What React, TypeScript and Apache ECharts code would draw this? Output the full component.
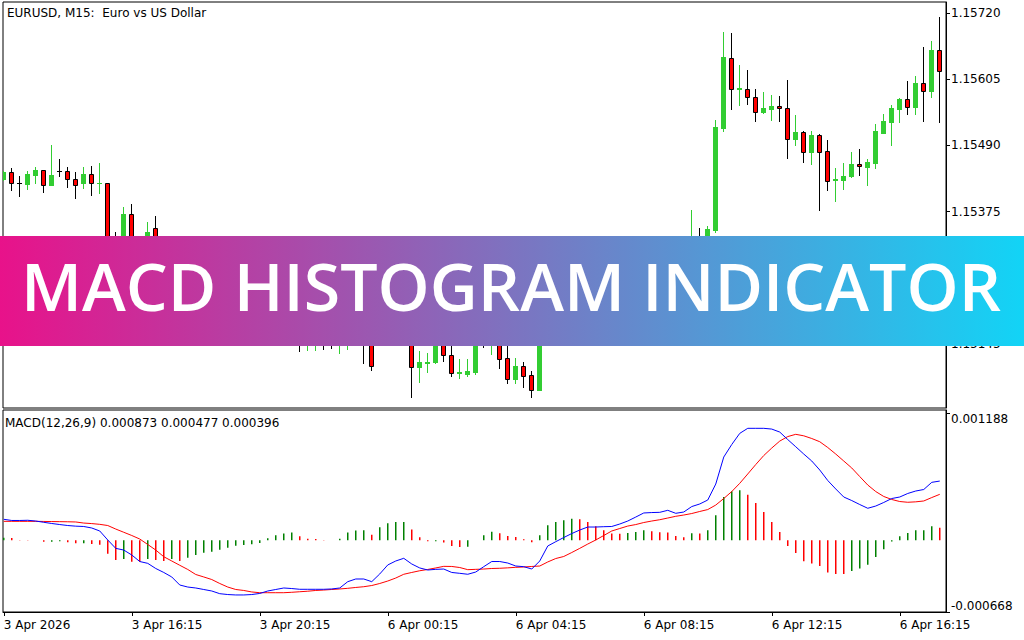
import React, { useEffect, useRef } from "react";
import * as echarts from "echarts";

// ---- price candles (EURUSD M15), one entry per bar ----
const opens = [
  1.15432, 1.15444, 1.15425, 1.15423, 1.15439, 1.15447, 1.15422, 1.15446, 1.15445, 1.15431,
  1.15424, 1.1544, 1.15424, 1.15424, 1.15247, 1.15221, 1.15371, 1.15287, 1.15305, 1.15346,
  1.15298, 1.1528, 1.15291, 1.15265, 1.15249, 1.15256, 1.15235, 1.15221, 1.15228, 1.15211,
  1.15197, 1.15204, 1.1519, 1.15197, 1.15183, 1.1519, 1.15176, 1.15183, 1.15169, 1.15176,
  1.15186, 1.15172, 1.15162, 1.15169, 1.15183, 1.15169, 1.15151, 1.15148, 1.15169, 1.1519,
  1.15176, 1.15193, 1.15104, 1.15112, 1.15114, 1.15165, 1.15125, 1.15094, 1.15092, 1.15096,
  1.15158, 1.15151, 1.15165, 1.1512, 1.15084, 1.15106, 1.15091, 1.15065, 1.15221, 1.15207,
  1.15225, 1.15235, 1.15225, 1.15242, 1.15252, 1.15239, 1.15249, 1.15235, 1.15245, 1.15256,
  1.15242, 1.15263, 1.15277, 1.15287, 1.15277, 1.15294, 1.15308, 1.15318, 1.15308, 1.15343,
  1.15521, 1.15642, 1.15589, 1.15589, 1.15574, 1.15549, 1.15553, 1.15558, 1.15555, 1.15502,
  1.15513, 1.15479, 1.15509, 1.1548, 1.1543, 1.1543, 1.15436, 1.15458, 1.15453, 1.1546,
  1.15512, 1.15531, 1.15554, 1.15571, 1.15557, 1.15599, 1.15584, 1.15656,
];
const closes = [
  1.15444, 1.15425, 1.15424, 1.1544, 1.15447, 1.15422, 1.15439, 1.15445, 1.15431, 1.15422,
  1.1544, 1.15424, 1.15425, 1.15239, 1.15221, 1.15371, 1.15287, 1.15308, 1.15339, 1.15298,
  1.1528, 1.15291, 1.15265, 1.15249, 1.15256, 1.15235, 1.15221, 1.15228, 1.15211, 1.15197,
  1.15204, 1.1519, 1.15197, 1.15183, 1.1519, 1.15176, 1.15183, 1.15169, 1.15179, 1.15186,
  1.15172, 1.15165, 1.15176, 1.15183, 1.15169, 1.15151, 1.15107, 1.15169, 1.1519, 1.15176,
  1.15193, 1.15104, 1.15113, 1.15113, 1.1516, 1.15125, 1.15094, 1.15095, 1.15098, 1.15158,
  1.15151, 1.15169, 1.15119, 1.15084, 1.15106, 1.15089, 1.15065, 1.15221, 1.15207, 1.15225,
  1.15235, 1.15225, 1.15242, 1.15252, 1.15239, 1.15249, 1.15235, 1.15245, 1.15256, 1.15242,
  1.15263, 1.15277, 1.15287, 1.15277, 1.15294, 1.15308, 1.15322, 1.15305, 1.15345, 1.15522,
  1.15644, 1.15589, 1.1559, 1.15574, 1.15549, 1.15555, 1.15559, 1.15555, 1.15502, 1.15513,
  1.15479, 1.15509, 1.15479, 1.15429, 1.15431, 1.15437, 1.15458, 1.15454, 1.15461, 1.15515,
  1.15533, 1.15556, 1.15571, 1.15557, 1.15599, 1.15584, 1.15656, 1.1562,
];
const lows = [
  1.1543, 1.15412, 1.15402, 1.15415, 1.15425, 1.15409, 1.15421, 1.15437, 1.15417, 1.15399,
  1.15416, 1.15404, 1.15408, 1.15228, 1.152, 1.15212, 1.15273, 1.15277, 1.15294, 1.15287,
  1.1527, 1.15266, 1.15252, 1.15235, 1.15239, 1.15225, 1.15211, 1.15214, 1.152, 1.15186,
  1.1519, 1.15179, 1.15183, 1.15172, 1.15169, 1.15162, 1.15158, 1.15133, 1.15134, 1.15134,
  1.15136, 1.15138, 1.15129, 1.15136, 1.15151, 1.15112, 1.151, 1.15145, 1.15158, 1.15165,
  1.15162, 1.15052, 1.15079, 1.15096, 1.15112, 1.15115, 1.15089, 1.15086, 1.15089, 1.15093,
  1.1514, 1.15127, 1.15102, 1.15077, 1.15077, 1.1507, 1.15053, 1.15064, 1.15197, 1.152,
  1.15218, 1.15214, 1.15221, 1.15235, 1.15232, 1.15228, 1.15225, 1.15228, 1.15239, 1.15235,
  1.15235, 1.15256, 1.1527, 1.15266, 1.15263, 1.15287, 1.15298, 1.15294, 1.15298, 1.15339,
  1.15516, 1.15553, 1.15561, 1.15563, 1.15533, 1.15547, 1.15535, 1.15533, 1.15469, 1.1549,
  1.15461, 1.15458, 1.15377, 1.15413, 1.15394, 1.15415, 1.15435, 1.15439, 1.15422, 1.15451,
  1.15511, 1.1549, 1.15531, 1.15545, 1.15545, 1.15533, 1.15575, 1.1553,
];
const highs = [
  1.15446, 1.15451, 1.15437, 1.15445, 1.15452, 1.15448, 1.15491, 1.15467, 1.15452, 1.15444,
  1.15453, 1.15454, 1.1546, 1.15425, 1.15339, 1.15383, 1.15388, 1.15326, 1.15357, 1.15367,
  1.15308, 1.15299, 1.15296, 1.15273, 1.15266, 1.15263, 1.15245, 1.15239, 1.15235, 1.15221,
  1.15214, 1.15211, 1.15204, 1.15204, 1.15197, 1.152, 1.1519, 1.15193, 1.15186, 1.15193,
  1.15197, 1.15183, 1.15186, 1.1519, 1.15193, 1.15179, 1.15158, 1.15176, 1.15197, 1.152,
  1.15204, 1.15204, 1.15133, 1.15129, 1.15169, 1.15176, 1.15141, 1.15118, 1.15118, 1.15169,
  1.15169, 1.15179, 1.15176, 1.15151, 1.1512, 1.15113, 1.15097, 1.15235, 1.15232, 1.15235,
  1.15245, 1.15242, 1.15249, 1.15259, 1.15259, 1.15256, 1.15256, 1.15252, 1.15263, 1.15263,
  1.15273, 1.15287, 1.15298, 1.15294, 1.15305, 1.15318, 1.15378, 1.15346, 1.15349, 1.15534,
  1.15687, 1.15685, 1.1563, 1.15621, 1.15588, 1.15583, 1.15578, 1.15576, 1.15604, 1.15543,
  1.15515, 1.15515, 1.1551, 1.155, 1.15451, 1.1546, 1.15479, 1.15484, 1.15466, 1.15527,
  1.15545, 1.1556, 1.15572, 1.15603, 1.1561, 1.15661, 1.15672, 1.15714,
];

// ---- MACD(12,26,9) sub-window ----
const macdLine = [
  196e-6, 185e-6, 185e-6, 187e-6, 180e-6, 168e-6, 157e-6, 147e-6, 138e-6, 132e-6,
  129e-6, 115e-6, 87e-6, 3e-6, -75e-6, -91e-6, -137e-6, -198e-6, -215e-6, -263e-6,
  -300e-6, -342e-6, -417e-6, -436e-6, -445e-6, -459e-6, -473e-6, -498e-6, -506e-6, -510e-6,
  -510e-6, -506e-6, -496e-6, -473e-6, -459e-6, -445e-6, -450e-6, -457e-6, -457e-6, -457e-6,
  -457e-6, -454e-6, -445e-6, -386e-6, -361e-6, -361e-6, -386e-6, -314e-6, -230e-6, -193e-6,
  -168e-6, -221e-6, -258e-6, -277e-6, -271e-6, -268e-6, -300e-6, -308e-6, -317e-6, -296e-6,
  -246e-6, -198e-6, -198e-6, -212e-6, -240e-6, -246e-6, -268e-6, -193e-6, -53e-6, -13e-6,
  26e-6, 63e-6, 96e-6, 124e-6, 124e-6, 127e-6, 129e-6, 152e-6, 180e-6, 217e-6,
  255e-6, 259e-6, 261e-6, 280e-6, 252e-6, 264e-6, 315e-6, 339e-6, 376e-6, 525e-6,
  777e-6, 894e-6, 998e-6, 1045e-6, 1045e-6, 1045e-6, 1038e-6, 1010e-6, 940e-6, 873e-6,
  805e-6, 740e-6, 656e-6, 558e-6, 479e-6, 404e-6, 371e-6, 334e-6, 299e-6, 320e-6,
  353e-6, 390e-6, 404e-6, 437e-6, 460e-6, 474e-6, 541e-6, 553e-6,
];
const signalLine = [
  177e-6, 177e-6, 177e-6, 177e-6, 177e-6, 176e-6, 175e-6, 174e-6, 173e-6, 171e-6,
  161e-6, 156e-6, 149e-6, 138e-6, 105e-6, 75e-6, 45e-6, 12e-6, -39e-6, -91e-6,
  -153e-6, -193e-6, -233e-6, -272e-6, -319e-6, -342e-6, -366e-6, -403e-6, -436e-6, -459e-6,
  -468e-6, -482e-6, -489e-6, -489e-6, -489e-6, -489e-6, -485e-6, -480e-6, -475e-6, -468e-6,
  -464e-6, -459e-6, -454e-6, -448e-6, -440e-6, -433e-6, -422e-6, -403e-6, -380e-6, -352e-6,
  -317e-6, -300e-6, -284e-6, -272e-6, -258e-6, -243e-6, -244e-6, -254e-6, -274e-6, -271e-6,
  -268e-6, -263e-6, -261e-6, -257e-6, -252e-6, -249e-6, -244e-6, -240e-6, -202e-6, -170e-6,
  -151e-6, -114e-6, -75e-6, -35e-6, 3e-6, 45e-6, 87e-6, 110e-6, 133e-6, 147e-6,
  166e-6, 180e-6, 192e-6, 208e-6, 224e-6, 236e-6, 250e-6, 269e-6, 287e-6, 329e-6,
  390e-6, 455e-6, 532e-6, 619e-6, 707e-6, 791e-6, 861e-6, 926e-6, 968e-6, 989e-6,
  975e-6, 950e-6, 920e-6, 866e-6, 805e-6, 740e-6, 675e-6, 595e-6, 516e-6, 455e-6,
  409e-6, 381e-6, 362e-6, 355e-6, 359e-6, 367e-6, 399e-6, 429e-6,
];
const histogram = [
  24e-6, 21e-6, 3e-6, 2e-6, 1e-6, -14e-6, -13e-6, -9e-6, -19e-6, -28e-6,
  -27e-6, -34e-6, -41e-6, -125e-6, -184e-6, -174e-6, -200e-6, -201e-6, -174e-6, -184e-6,
  -193e-6, -175e-6, -193e-6, -162e-6, -137e-6, -116e-6, -106e-6, -88e-6, -69e-6, -50e-6,
  -44e-6, -37e-6, -25e-6, 19e-6, 47e-6, 63e-6, 72e-6, 37e-6, 14e-6, 13e-6,
  2e-6, 1e-6, 14e-6, 72e-6, 92e-6, 94e-6, 53e-6, 121e-6, 159e-6, 170e-6,
  172e-6, 100e-6, 28e-6, -9e-6, -8e-6, -21e-6, -53e-6, -62e-6, -61e-6, 0,
  47e-6, 81e-6, 65e-6, 40e-6, 31e-6, 9e-6, -19e-6, 47e-6, 140e-6, 171e-6,
  187e-6, 202e-6, 196e-6, 171e-6, 131e-6, 93e-6, 63e-6, 62e-6, 68e-6, 77e-6,
  93e-6, 84e-6, 75e-6, 74e-6, 40e-6, 28e-6, 65e-6, 64e-6, 93e-6, 233e-6,
  404e-6, 457e-6, 467e-6, 426e-6, 348e-6, 264e-6, 171e-6, 77e-6, -53e-6, -118e-6,
  -196e-6, -217e-6, -240e-6, -301e-6, -314e-6, -315e-6, -286e-6, -264e-6, -227e-6, -156e-6,
  -84e-6, -12e-6, 37e-6, 68e-6, 93e-6, 95e-6, 131e-6, 118e-6,
];

// ---- axes ----
const priceTicks = [1.15145, 1.1526, 1.15375, 1.1549, 1.15605, 1.1572];
const priceLabels = [1.15145, 1.15375, 1.1549, 1.15605, 1.1572]; // 1.15260 sits under the banner
const macdTicks = [-0.000668, 0.001188];
const timeTickIndex = [0, 16, 32, 48, 64, 80, 96, 112];
const timeTickLabels = [
  "3 Apr 2026",
  "3 Apr 16:15",
  "3 Apr 20:15",
  "6 Apr 00:15",
  "6 Apr 04:15",
  "6 Apr 08:15",
  "6 Apr 12:15",
  "6 Apr 16:15",
];
const chartTitle = "EURUSD, M15:  Euro vs US Dollar";
const macdTitle = "MACD(12,26,9) 0.000873 0.000477 0.000396";
const bannerText = "MACD HISTOGRAM INDICATOR";

const BULL = "#32cd32";
const BEAR = "#ff0000";
const HIST_UP = "#008000";
const HIST_DOWN = "#ff0000";
const FONT = "DejaVu Sans";

export default function App() {
  const ref = useRef<HTMLDivElement>(null);

  useEffect(() => {
    if (!ref.current) return;
    const chart = echarts.init(ref.current, null, { renderer: "svg" });
    const xMin = -0.09375;
    const xMax = 117.78125;

    const candleData = opens.map((o, i) => [i, o, closes[i], lows[i], highs[i]]);
    const histData = histogram.map((v, i) => ({
      value: [i, v],
      itemStyle: { color: v > (i > 0 ? histogram[i - 1] : -Infinity) ? HIST_UP : HIST_DOWN },
    }));

    const axisFont = { color: "#000", fontFamily: FONT, fontSize: 12 };

    const option: any = {
      animation: false,
      backgroundColor: "#ffffff",
      grid: [
        { left: 3, top: 2, width: 943, height: 406, show: true, borderColor: "#000", borderWidth: 1, backgroundColor: "#fff", outerBoundsMode: "none" },
        { left: 3, top: 410, width: 943, height: 202, show: true, borderColor: "#000", borderWidth: 1, backgroundColor: "#fff", outerBoundsMode: "none" },
      ],
      xAxis: [
        { type: "value", gridIndex: 0, min: xMin, max: xMax, show: false, axisLine: { onZero: false } },
        {
          type: "value",
          gridIndex: 1,
          min: xMin,
          max: xMax,
          axisLine: { show: true, onZero: false, lineStyle: { color: "#000", width: 1 } },
          axisTick: { show: true, length: 4, customValues: timeTickIndex, lineStyle: { color: "#000" } },
          axisLabel: {
            ...axisFont,
            customValues: timeTickIndex,
            align: "left",
            margin: 7,
            formatter: (v: number) => timeTickLabels[timeTickIndex.indexOf(Math.round(v))] ?? "",
          },
          splitLine: { show: false },
        },
      ],
      yAxis: [
        {
          type: "value",
          gridIndex: 0,
          position: "right",
          min: 1.150332,
          max: 1.157396,
          axisLine: { show: true, onZero: false, lineStyle: { color: "#000", width: 1 } },
          axisTick: { show: true, length: 4, customValues: priceTicks, lineStyle: { color: "#000" } },
          axisLabel: {
            ...axisFont,
            customValues: priceLabels,
            margin: 5,
            formatter: (v: number) => v.toFixed(5),
          },
          splitLine: { show: false },
        },
        {
          type: "value",
          gridIndex: 1,
          position: "right",
          min: -0.000669,
          max: 0.001216,
          axisLine: { show: true, onZero: false, lineStyle: { color: "#000", width: 1 } },
          axisTick: { show: true, length: 4, customValues: macdTicks, lineStyle: { color: "#000" } },
          axisLabel: {
            ...axisFont,
            customValues: macdTicks,
            margin: 5,
            verticalAlignMinLabel: "bottom",
            verticalAlignMaxLabel: "top",
            formatter: (v: number) => v.toFixed(6),
          },
          splitLine: { show: false },
        },
      ],
      series: [
        {
          type: "custom",
          name: "EURUSD",
          xAxisIndex: 0,
          yAxisIndex: 0,
          clip: true,
          silent: true,
          dimensions: ["i", "open", "close", "low", "high"],
          encode: { x: 0, y: [1, 2, 3, 4] },
          data: candleData,
          renderItem: (_params: any, api: any) => {
            const i = api.value(0);
            const o = api.value(1);
            const c = api.value(2);
            const l = api.value(3);
            const h = api.value(4);
            const po = api.coord([i, o]);
            const pc = api.coord([i, c]);
            const pl = api.coord([i, l]);
            const ph = api.coord([i, h]);
            const cx = Math.floor(po[0]);
            const bull = c > o;
            const wick = bull ? BULL : "#000";
            const top = Math.round(Math.min(po[1], pc[1]));
            const bot = Math.round(Math.max(po[1], pc[1]));
            const children: any[] = [
              {
                type: "line",
                shape: { x1: cx + 0.5, y1: Math.round(ph[1]), x2: cx + 0.5, y2: Math.round(pl[1]) + 1 },
                style: { stroke: wick, lineWidth: 1 },
              },
            ];
            if (bot - top < 1) {
              children.push({
                type: "line",
                shape: { x1: cx - 2, y1: top + 0.5, x2: cx + 3, y2: top + 0.5 },
                style: { stroke: wick, lineWidth: 1 },
              });
            } else if (bull) {
              children.push({
                type: "rect",
                shape: { x: cx - 2, y: top, width: 5, height: bot - top + 1 },
                style: { fill: BULL },
              });
            } else {
              children.push({
                type: "rect",
                shape: { x: cx - 1.5, y: top + 0.5, width: 4, height: bot - top },
                style: { fill: BEAR, stroke: "#000", lineWidth: 1 },
              });
            }
            return { type: "group", children };
          },
        },
        {
          type: "bar",
          name: "Histogram",
          xAxisIndex: 1,
          yAxisIndex: 1,
          silent: true,
          barWidth: 1.5,
          data: histData,
        },
        {
          type: "line",
          name: "Signal",
          xAxisIndex: 1,
          yAxisIndex: 1,
          symbol: "none",
          silent: true,
          data: signalLine.map((v, i) => [i, v]),
          lineStyle: { color: "#ff0000", width: 1 },
        },
        {
          type: "line",
          name: "MACD",
          xAxisIndex: 1,
          yAxisIndex: 1,
          symbol: "none",
          silent: true,
          data: macdLine.map((v, i) => [i, v]),
          lineStyle: { color: "#0000ff", width: 1 },
        },
      ],
      graphic: [
        {
          type: "text",
          x: 7,
          y: 13,
          z: 50,
          style: { text: chartTitle, font: `12px "${FONT}"`, fill: "#000", verticalAlign: "middle" },
        },
        {
          type: "text",
          x: 5,
          y: 423,
          z: 50,
          style: { text: macdTitle, font: `12px "${FONT}"`, fill: "#000", verticalAlign: "middle" },
        },
        {
          type: "rect",
          z: 100,
          shape: { x: 0, y: 236, width: 1024, height: 110 },
          style: {
            fill: new echarts.graphic.LinearGradient(0, 0, 1, 0, [
              { offset: 0, color: "#e8128a" },
              { offset: 1, color: "#12d4f6" },
            ]),
          },
        },
        {
          type: "text",
          x: 511,
          y: 286,
          z: 101,
          scaleX: 1.02,
          style: {
            text: bannerText,
            font: `600 65px "Open Sans"`,
            fill: "#ffffff",
            align: "center",
            verticalAlign: "middle",
          },
        },
      ],
    };

    chart.setOption(option);
    return () => chart.dispose();
  }, []);

  return (
    <div
      ref={ref}
      style={{ position: "fixed", left: 0, top: 0, width: 1024, height: 640, background: "#fff" }}
    />
  );
}
